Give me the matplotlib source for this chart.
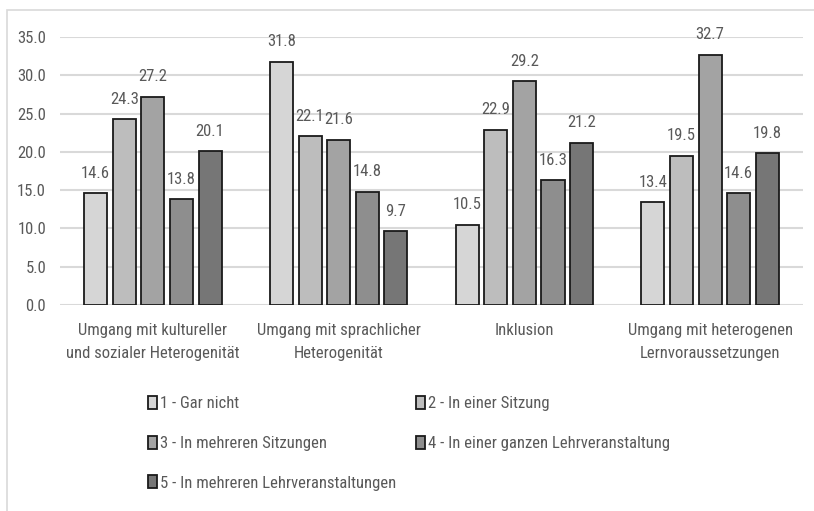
import numpy as np
import matplotlib.pyplot as plt
from matplotlib.patches import Rectangle

plt.rcParams['font.family'] = ['Liberation Sans Narrow', 'DejaVu Sans Condensed',
                               'Roboto Condensed', 'Open Sans Condensed', 'Noto Sans']

categories = [
    "Umgang mit kultureller\nund sozialer Heterogenität",
    "Umgang mit sprachlicher\nHeterogenität",
    "Inklusion",
    "Umgang mit heterogenen\nLernvoraussetzungen",
]
series_names = [
    "1 - Gar nicht",
    "2 - In einer Sitzung",
    "3 - In mehreren Sitzungen",
    "4 - In einer ganzen Lehrveranstaltung",
    "5 - In mehreren Lehrveranstaltungen",
]
gar_nicht = [14.6, 31.8, 10.5, 13.4]
eine_sitzung = [24.3, 22.1, 22.9, 19.5]
mehrere_sitzungen = [27.2, 21.6, 29.2, 32.7]
ganze_lv = [13.8, 14.8, 16.3, 14.6]
mehrere_lv = [20.1, 9.7, 21.2, 19.8]
series = [gar_nicht, eine_sitzung, mehrere_sitzungen, ganze_lv, mehrere_lv]
yticks = [0, 5, 10, 15, 20, 25, 30, 35]

colors = ["#d6d6d6", "#bdbdbd", "#a3a3a3", "#8e8e8e", "#767676"]
text_color = "#595959"
grid_color = "#d9d9d9"
fs = 12

fig = plt.figure(figsize=(8.14, 5.11), dpi=100)
ax = fig.add_axes([0.0737, 0.403, 0.9128, 0.5246])

x = np.arange(len(categories))
pitch = 0.154
width = 0.124
handles = []
for i, (vals, name, col) in enumerate(zip(series, series_names, colors)):
    pos = x + (i - 2) * pitch
    bars = ax.bar(pos, vals, width, color=col, edgecolor="#1a1a1a",
                  linewidth=1.3, label=name, zorder=3)
    handles.append(bars)
    for xp, v in zip(pos, vals):
        ax.text(xp, v + 1.6, f"{v:.1f}", ha="center", va="bottom",
                fontsize=fs, color=text_color, clip_on=False)

ax.set_xlim(-0.5, len(categories) - 0.5)
ax.set_ylim(0, 35)
ax.set_yticks(yticks)
ax.set_yticklabels([f"{t:.1f}" for t in yticks], fontsize=fs, color=text_color)
ax.set_xticks(x)
ax.set_xticklabels(categories, fontsize=fs, color=text_color, linespacing=1.65)
ax.tick_params(axis="both", length=0)
ax.tick_params(axis="x", pad=13)
ax.tick_params(axis="y", pad=10)
ax.grid(axis="y", color=grid_color, linewidth=1.5, zorder=0)
for s in ax.spines.values():
    s.set_visible(False)

# legend in two columns: 1,3,5 on the left, 2,4 on the right
leg_kw = dict(loc="upper left", frameon=False, fontsize=fs, labelcolor=text_color,
              handlelength=0.55, handleheight=0.85, handletextpad=0.2,
              labelspacing=1.45, borderpad=0, borderaxespad=0)
left = [0, 2, 4]
right = [1, 3]
fig.legend([handles[i] for i in left], [series_names[i] for i in left],
           bbox_to_anchor=(148 / 814, 1 - 396 / 511), **leg_kw)
fig.legend([handles[i] for i in right], [series_names[i] for i in right],
           bbox_to_anchor=(416 / 814, 1 - 396 / 511), **leg_kw)

# outer chart border
fig.add_artist(Rectangle((7 / 814, -0.1), 1.0, 1 - 10 / 511 + 0.1,
                         transform=fig.transFigure, fill=False,
                         edgecolor=grid_color, linewidth=1.2))

fig.savefig("out.png", dpi=100)
